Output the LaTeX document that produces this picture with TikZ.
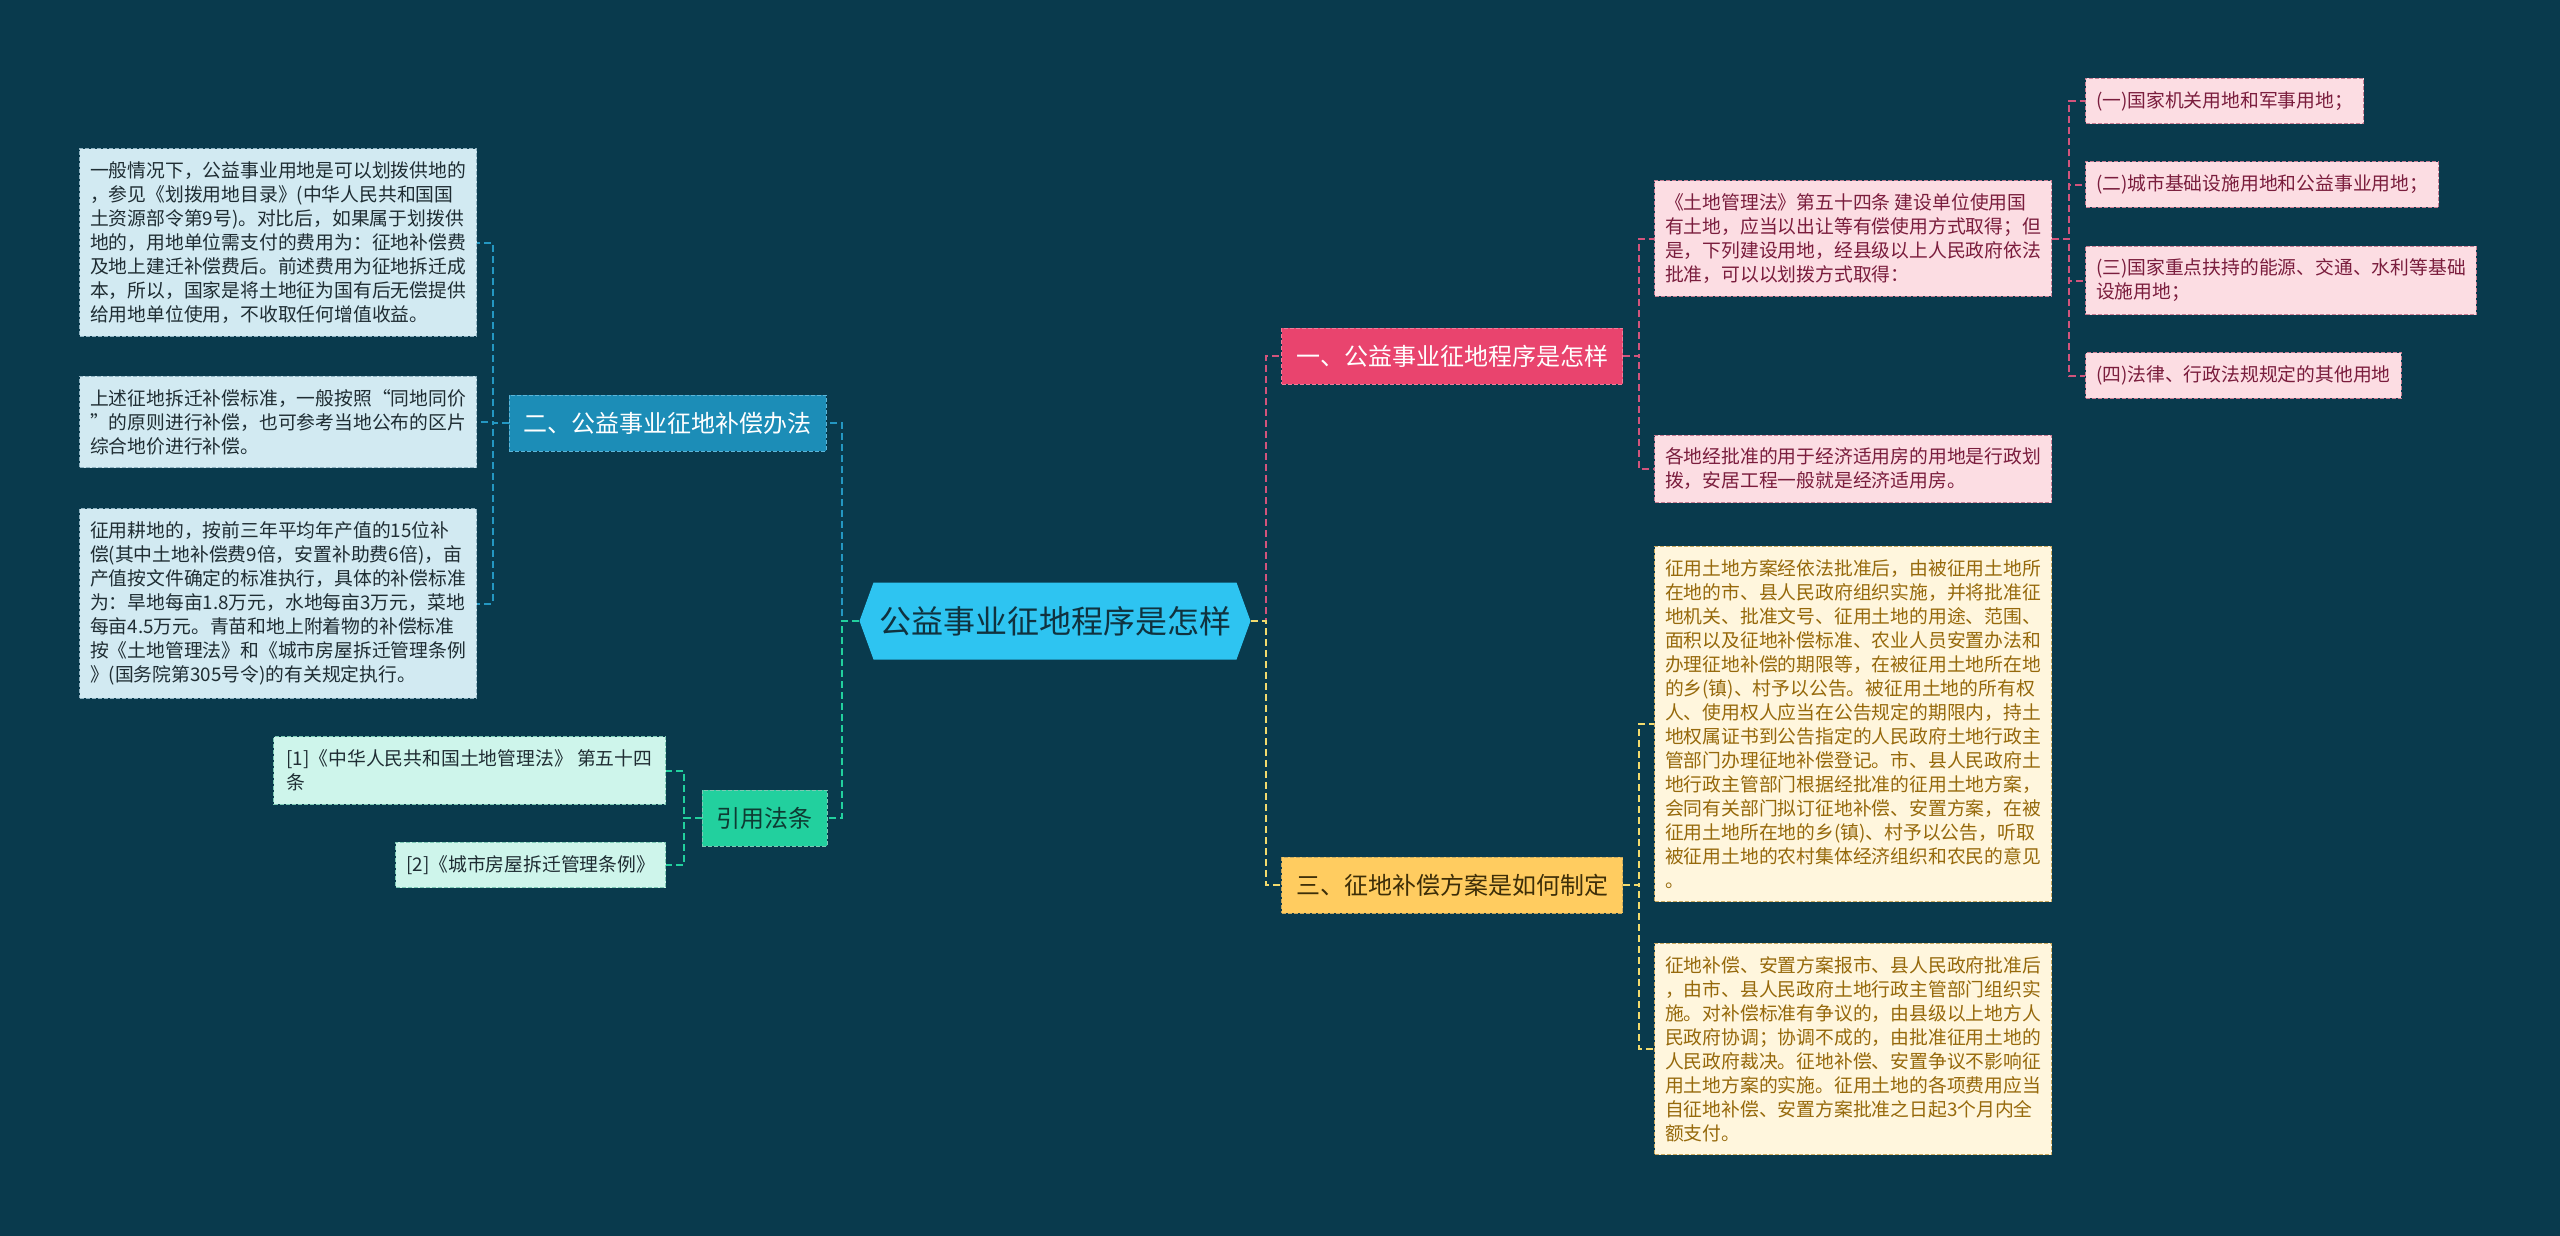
\documentclass[tikz,border=0pt]{standalone}
\usepackage{fontspec}
\setmainfont{Noto Sans CJK SC}
\usetikzlibrary{shapes.symbols}

% ---- 配色 ----
\definecolor{bgcol}{HTML}{093A4D}
\definecolor{rootfill}{HTML}{2EC4F1}
\definecolor{roottext}{HTML}{10323F}
\definecolor{erfill}{HTML}{1C8DB7}
\definecolor{erline}{HTML}{5CB6DA}
\definecolor{bluefill}{HTML}{D2EAF2}
\definecolor{blueline}{HTML}{8FB3C2}
\definecolor{bluetext}{HTML}{1F2D33}
\definecolor{yyfill}{HTML}{22D09E}
\definecolor{yytext}{HTML}{0E3B33}
\definecolor{mintfill}{HTML}{CEF5EB}
\definecolor{mintline}{HTML}{7CC9B4}
\definecolor{yifill}{HTML}{E9446E}
\definecolor{yiline}{HTML}{F07D9A}
\definecolor{pinkfill}{HTML}{FCDDE3}
\definecolor{pinkline}{HTML}{C77D93}
\definecolor{pinktext}{HTML}{7A1D3D}
\definecolor{sanfill}{HTML}{FFCC60}
\definecolor{santext}{HTML}{3D2E08}
\definecolor{yelfill}{HTML}{FFF6DD}
\definecolor{yelline}{HTML}{C9A85E}
\definecolor{yeltext}{HTML}{96690B}
\definecolor{linkblue}{HTML}{2497C2}
\definecolor{linkgreen}{HTML}{22D09E}
\definecolor{linkpink}{HTML}{D2547C}
\definecolor{linkyel}{HTML}{F2DA6E}

\tikzset{
  rootnode/.style={signal, signal to=west and east, signal pointer angle=140,
    fill=rootfill, text=roottext, minimum width=195.5pt, minimum height=38.5pt,
    inner sep=2pt, font=\fontsize{16}{18}\selectfont},
  branch/.style={draw, dash pattern=on 2pt off 1pt, line width=0.5pt,
    minimum height=28pt, inner xsep=7.25pt, font=\fontsize{12}{14}\selectfont},
  box/.style={draw, dash pattern=on 2pt off 1pt, line width=0.5pt,
    inner xsep=5.25pt, inner ysep=6.5pt, align=left,
    font=\fontsize{9.4}{12}\selectfont},
  leafblue/.style={box, fill=bluefill, draw=blueline, text=bluetext},
  leafmint/.style={box, fill=mintfill, draw=mintline, text=bluetext},
  leafpink/.style={box, fill=pinkfill, draw=pinkline, text=pinktext},
  leafyel/.style={box, fill=yelfill, draw=yelline, text=yeltext},
  wide/.style={minimum width=198.5pt},
  link/.style={line width=1pt, dash pattern=on 3.5pt off 2pt}
}

\begin{document}
\begin{tikzpicture}[x=0.5pt,y=-0.5pt]
% ---- 背景 ----
\fill[bgcol] (0,0) rectangle (2560,1236);
\useasboundingbox (0,0) rectangle (2560,1236);

% ---- 中心主题 ----
\node[rootnode] (root) at (1055,621) {公益事业征地程序是怎样};

% ---- 左侧：二、补偿办法 ----
\node[branch, fill=erfill, draw=erline, text=white] (er) at (667.5,423) {二、公益事业征地补偿办法};
\node[leafblue, wide, anchor=east] (er1) at (477,242.5) {一般情况下，公益事业用地是可以划拨供地的\\，参见《划拨用地目录》(中华人民共和国国\\土资源部令第9号)。对比后，如果属于划拨供\\地的，用地单位需支付的费用为：征地补偿费\\及地上建迁补偿费后。前述费用为征地拆迁成\\本，所以，国家是将土地征为国有后无偿提供\\给用地单位使用，不收取任何增值收益。};
\node[leafblue, wide, anchor=east] (er2) at (477,422) {上述征地拆迁补偿标准，一般按照“同地同价\\”的原则进行补偿，也可参考当地公布的区片\\综合地价进行补偿。};
\node[leafblue, wide, anchor=east] (er3) at (477,603.5) {征用耕地的，按前三年平均年产值的15位补\\偿(其中土地补偿费9倍，安置补助费6倍)，亩\\产值按文件确定的标准执行，具体的补偿标准\\为：旱地每亩1.8万元，水地每亩3万元，菜地\\每亩4.5万元。青苗和地上附着物的补偿标准\\按《土地管理法》和《城市房屋拆迁管理条例\\》(国务院第305号令)的有关规定执行。};

% ---- 左侧：引用法条 ----
\node[branch, fill=yyfill, draw=mintline, text=yytext] (yy) at (764.5,818) {引用法条};
\node[leafmint, minimum width=196pt, anchor=east] (yy1) at (666,770.5) {[1]《中华人民共和国土地管理法》 第五十四\\条};
\node[leafmint, anchor=east] (yy2) at (666,865) {[2]《城市房屋拆迁管理条例》};

% ---- 右侧：一、征地程序 ----
\node[branch, fill=yifill, draw=yiline, text=white] (yi) at (1452,356) {一、公益事业征地程序是怎样};
\node[leafpink, wide, anchor=west] (yi1) at (1654,238.5) {《土地管理法》第五十四条~建设单位使用国\\有土地，应当以出让等有偿使用方式取得；但\\是，下列建设用地，经县级以上人民政府依法\\批准，可以以划拨方式取得：};
\node[leafpink, wide, anchor=west] (yi2) at (1654,469) {各地经批准的用于经济适用房的用地是行政划\\拨，安居工程一般就是经济适用房。};
\node[leafpink, anchor=west] (sub1) at (2085,101) {(一)国家机关用地和军事用地；};
\node[leafpink, anchor=west] (sub2) at (2085,184.5) {(二)城市基础设施用地和公益事业用地；};
\node[leafpink, anchor=west] (sub3) at (2085,280.5) {(三)国家重点扶持的能源、交通、水利等基础\\设施用地；};
\node[leafpink, anchor=west] (sub4) at (2085,375.5) {(四)法律、行政法规规定的其他用地};

% ---- 右侧：三、补偿方案 ----
\node[branch, fill=sanfill, draw=yelline, text=santext] (san) at (1452,885) {三、征地补偿方案是如何制定};
\node[leafyel, wide, anchor=west] (san1) at (1654,724) {征用土地方案经依法批准后，由被征用土地所\\在地的市、县人民政府组织实施，并将批准征\\地机关、批准文号、征用土地的用途、范围、\\面积以及征地补偿标准、农业人员安置办法和\\办理征地补偿的期限等，在被征用土地所在地\\的乡(镇)、村予以公告。被征用土地的所有权\\人、使用权人应当在公告规定的期限内，持土\\地权属证书到公告指定的人民政府土地行政主\\管部门办理征地补偿登记。市、县人民政府土\\地行政主管部门根据经批准的征用土地方案，\\会同有关部门拟订征地补偿、安置方案，在被\\征用土地所在地的乡(镇)、村予以公告，听取\\被征用土地的农村集体经济组织和农民的意见\\。};
\node[leafyel, wide, anchor=west] (san2) at (1654,1049) {征地补偿、安置方案报市、县人民政府批准后\\，由市、县人民政府土地行政主管部门组织实\\施。对补偿标准有争议的，由县级以上地方人\\民政府协调；协调不成的，由批准征用土地的\\人民政府裁决。征地补偿、安置争议不影响征\\用土地方案的实施。征用土地的各项费用应当\\自征地补偿、安置方案批准之日起3个月内全\\额支付。};

% ---- 连线 ----
\draw[link, linkblue] (root.west) -- ++(-17,0) |- (er.east);
\draw[link, linkgreen] (root.west) -- ++(-17,0) |- (yy.east);
\foreach \n in {er1,er2,er3}
  \draw[link, linkblue] (er.west) -- ++(-16,0) |- (\n.east);
\foreach \n in {yy1,yy2}
  \draw[link, linkgreen] (yy.west) -- ++(-18,0) |- (\n.east);
\draw[link, linkpink] (root.east) -- ++(15,0) |- (yi.west);
\draw[link, linkyel] (root.east) -- ++(15,0) |- (san.west);
\foreach \n in {yi1,yi2}
  \draw[link, linkpink] (yi.east) -- ++(16,0) |- (\n.west);
\foreach \n in {sub1,sub2,sub3,sub4}
  \draw[link, linkpink] (yi1.east) -- ++(17,0) |- (\n.west);
\foreach \n in {san1,san2}
  \draw[link, linkyel] (san.east) -- ++(16,0) |- (\n.west);
\end{tikzpicture}
\end{document}
